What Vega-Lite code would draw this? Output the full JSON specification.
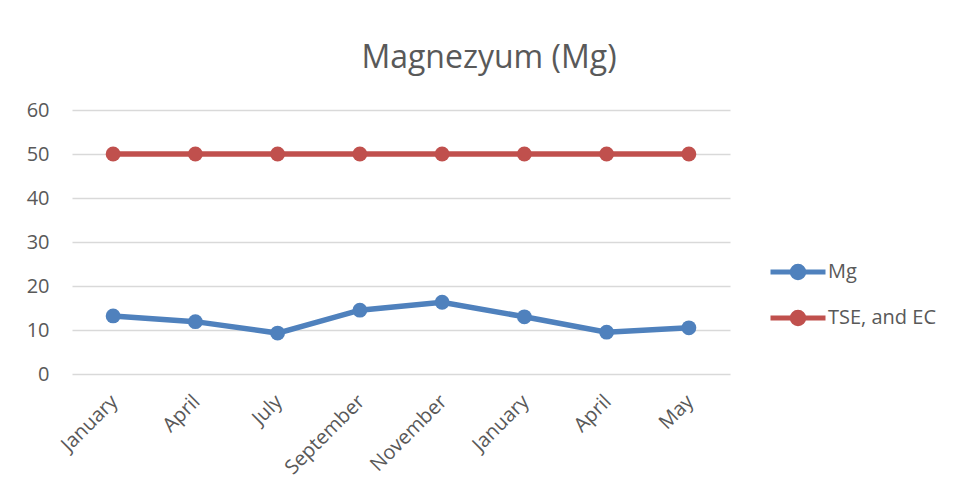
{
  "$schema": "https://vega.github.io/schema/vega-lite/v6.json",
  "width": 658,
  "height": 264,
  "autosize": {"type": "none"},
  "padding": {"left": 72, "top": 110, "right": 226, "bottom": 120},
  "background": "white",
  "title": {
    "text": "Magnezyum (Mg)",
    "anchor": "middle",
    "frame": "group",
    "dx": 88,
    "offset": 25,
    "fontSize": 32,
    "font": "Open Sans",
    "fontWeight": "normal",
    "color": "#595959"
  },
  "data": {
    "values": [
      {"period": "1 January", "series": "Mg", "value": 13.2},
      {"period": "2 April", "series": "Mg", "value": 11.9},
      {"period": "3 July", "series": "Mg", "value": 9.3},
      {"period": "4 September", "series": "Mg", "value": 14.5},
      {"period": "5 November", "series": "Mg", "value": 16.3},
      {"period": "6 January", "series": "Mg", "value": 13.0},
      {"period": "7 April", "series": "Mg", "value": 9.5},
      {"period": "8 May", "series": "Mg", "value": 10.5},
      {"period": "1 January", "series": "TSE, and EC", "value": 50},
      {"period": "2 April", "series": "TSE, and EC", "value": 50},
      {"period": "3 July", "series": "TSE, and EC", "value": 50},
      {"period": "4 September", "series": "TSE, and EC", "value": 50},
      {"period": "5 November", "series": "TSE, and EC", "value": 50},
      {"period": "6 January", "series": "TSE, and EC", "value": 50},
      {"period": "7 April", "series": "TSE, and EC", "value": 50},
      {"period": "8 May", "series": "TSE, and EC", "value": 50}
    ]
  },
  "mark": {
    "type": "line",
    "strokeWidth": 5.5,
    "point": {"size": 220, "filled": true, "opacity": 1}
  },
  "encoding": {
    "x": {
      "field": "period",
      "type": "ordinal",
      "title": null,
      "scale": {"paddingInner": 0, "paddingOuter": 0.5},
      "axis": {
        "labelExpr": "split(datum.value, ' ')[1]",
        "labelAngle": -45,
        "labelFont": "Open Sans",
        "labelFontSize": 20,
        "labelColor": "#595959",
        "labelPadding": 17,
        "labelOffset": -6,
        "ticks": false,
        "domain": false,
        "grid": false
      }
    },
    "y": {
      "field": "value",
      "type": "quantitative",
      "title": null,
      "scale": {"domain": [0, 60], "nice": false},
      "axis": {
        "values": [0, 10, 20, 30, 40, 50, 60],
        "labelFont": "Open Sans",
        "labelFontSize": 20,
        "labelColor": "#595959",
        "labelPadding": 23,
        "ticks": false,
        "domain": false,
        "grid": true,
        "gridColor": "#D9D9D9",
        "gridWidth": 1.5
      }
    },
    "color": {
      "field": "series",
      "type": "nominal",
      "scale": {"domain": ["Mg", "TSE, and EC"], "range": ["#4F81BD", "#C0504D"]},
      "legend": {
        "title": null,
        "orient": "none",
        "legendX": 696,
        "legendY": 132,
        "labelFont": "Open Sans",
        "labelFontSize": 20,
        "labelColor": "#595959",
        "rowPadding": -18,
        "symbolType": "M-1,0L1,0M0.21,0A0.21,0.21 0 1,1 -0.21,0A0.21,0.21 0 1,1 0.21,0Z",
        "symbolSize": 3025,
        "symbolStrokeWidth": 5,
        "labelOffset": 0
      }
    }
  },
  "config": {
    "view": {"stroke": null}
  }
}
